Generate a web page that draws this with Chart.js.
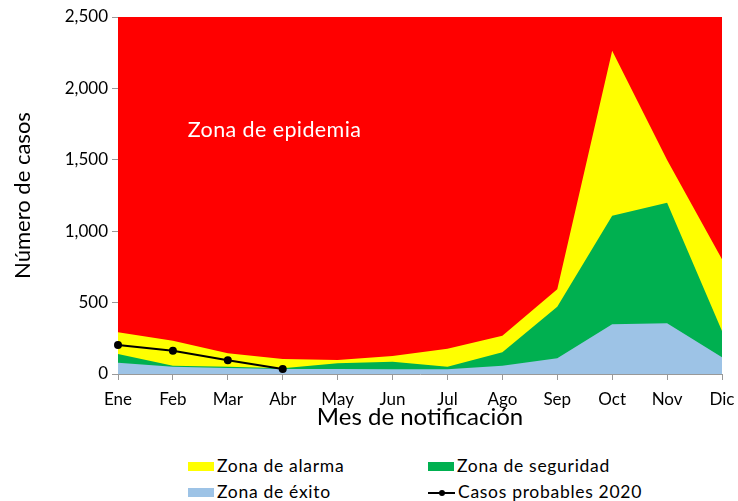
<!DOCTYPE html>
<html>
<head>
<meta charset="utf-8">
<script src="https://cdn.jsdelivr.net/npm/chart.js/dist/chart.umd.js"></script>
<style>
  body { margin: 0; background: #fff; font-family: Lato, "Open Sans", sans-serif; }
  #wrap { position: relative; width: 738px; height: 501px; }
  #chart { position: absolute; left: 0; top: 0; }
  .leg { position: absolute; font-size: 17.5px; color: #000; line-height: 18px; white-space: nowrap; letter-spacing: 0.7px; }
  .leg .box { display: inline-block; width: 26px; height: 9px; vertical-align: middle; margin-right: 3px; margin-top: -3px; }
  .leg .ln { display: inline-block; position: relative; width: 27px; height: 9px; vertical-align: middle; margin-right: 3px; margin-top: -3px; }
  .leg .ln::before { content: ""; position: absolute; left: 0; right: 0; top: 4px; height: 2px; background: #000; }
  .leg .ln::after { content: ""; position: absolute; left: 11px; top: 2px; width: 6px; height: 6px; border-radius: 50%; background: #000; }
</style>
</head>
<body>
<div id="wrap">
  <canvas id="chart" width="738" height="432"></canvas>
  <div class="leg" style="left:188px; top:457px;"><span class="box" style="background:#ffff00"></span>Zona de alarma</div>
  <div class="leg" style="left:428px; top:457px;"><span class="box" style="background:#00b050"></span>Zona de seguridad</div>
  <div class="leg" style="left:188px; top:483px;"><span class="box" style="background:#9dc3e6"></span>Zona de éxito</div>
  <div class="leg" style="left:428px; top:483px;"><span class="ln"></span>Casos probables 2020</div>
</div>
<script>
// canal endémico por mes
const months = ["Ene", "Feb", "Mar", "Abr", "May", "Jun", "Jul", "Ago", "Sep", "Oct", "Nov", "Dic"];
const epidemia = [2500, 2500, 2500, 2500, 2500, 2500, 2500, 2500, 2500, 2500, 2500, 2500];
const alarma = [292, 233, 145, 105, 98, 126, 177, 268, 593, 2263, 1498, 803];
const seguridad = [140, 58, 51, 40, 75, 86, 51, 152, 471, 1108, 1199, 301];
const exito = [79, 51, 42, 35, 35, 33, 33, 58, 110, 348, 355, 117];
const casos2020 = [203, 163, 96, 35];
const yTicks = [0, 500, 1000, 1500, 2000, 2500];

const font = "Lato, 'Open Sans', sans-serif";

function area(label, data, color, order) {
  return {
    type: "line", label, data, order,
    backgroundColor: color, borderColor: color, borderWidth: 0,
    fill: "origin", pointRadius: 0, tension: 0
  };
}

// texto dentro de la zona roja
const zonaLabel = {
  id: "zonaLabel",
  afterDatasetsDraw(chart) {
    const { ctx, scales } = chart;
    ctx.save();
    ctx.fillStyle = "#fff";
    ctx.font = "21.5px " + font;
    ctx.letterSpacing = "0.4px";
    ctx.textBaseline = "middle";
    ctx.fillText("Zona de epidemia", scales.x.getPixelForValue(1.27), scales.y.getPixelForValue(1708));
    ctx.restore();
  }
};

new Chart(document.getElementById("chart"), {
  type: "line",
  data: {
    labels: months,
    datasets: [
      {
        type: "line", label: "Casos probables 2020", data: casos2020, order: 0,
        borderColor: "#000", backgroundColor: "#000", borderWidth: 2,
        pointRadius: 3, pointHoverRadius: 3, fill: false, tension: 0
      },
      area("Zona de éxito", exito, "#9dc3e6", 1),
      area("Zona de seguridad", seguridad, "#00b050", 2),
      area("Zona de alarma", alarma, "#ffff00", 3),
      area("Zona de epidemia", epidemia, "#ff0000", 4)
    ]
  },
  options: {
    responsive: false,
    animation: false,
    layout: { padding: { top: 17, right: 0, left: 10, bottom: 0 } },
    plugins: { legend: { display: false }, tooltip: { enabled: false } },
    scales: {
      x: {
        offset: false,
        grid: { drawOnChartArea: false, color: "#999", tickLength: 6 },
        border: { color: "#999", width: 1 },
        ticks: { color: "#000", font: { family: font, size: 17 }, padding: 9, maxRotation: 0 },
        title: { display: true, text: "Mes de notificación", color: "#000", font: { family: font, size: 24 }, padding: 0 },
        afterFit(s) { s.height = 58; s.paddingLeft = 0; s.paddingRight = 16; }
      },
      y: {
        min: 0, max: 2500,
        afterBuildTicks(s) { s.ticks = yTicks.map(v => ({ value: v })); },
        grid: { drawOnChartArea: false, color: "#999", tickLength: 6 },
        border: { color: "#999", width: 1 },
        ticks: {
          color: "#000", font: { family: font, size: 17 }, padding: 4,
          callback: v => v.toLocaleString("en-US")
        },
        title: { display: true, text: "Número de casos", color: "#000", font: { family: font, size: 22 }, padding: 0 },
        afterFit(s) { s.width = 108; }
      }
    }
  },
  plugins: [zonaLabel]
});
</script>
</body>
</html>
